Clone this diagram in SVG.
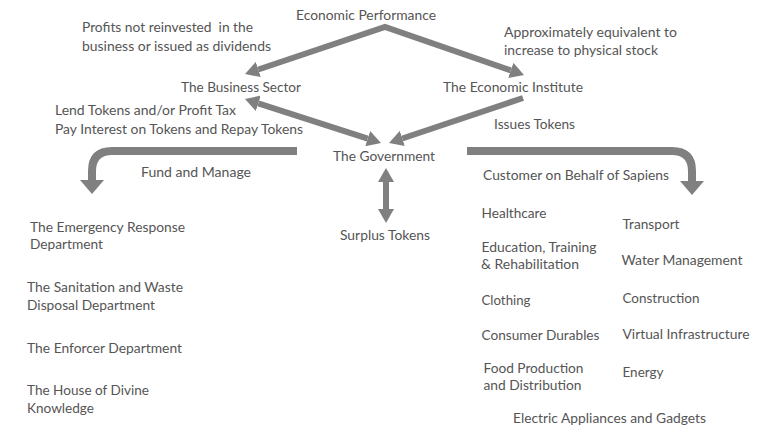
<svg xmlns="http://www.w3.org/2000/svg" width="768" height="437" viewBox="0 0 768 437">
<style>
text{font-family:Lato,"Open Sans","Liberation Sans",sans-serif;font-size:14px;fill:#555555}
.c{fill:none;stroke:#808080}
.thin{stroke-width:6}
.thick{stroke-width:8}
</style>
<defs>
<marker id="ah" markerUnits="userSpaceOnUse" viewBox="0 0 14 16" markerWidth="14" markerHeight="16" refX="0" refY="8" orient="auto-start-reverse"><path d="M0,0 L14,8 L0,16 z" fill="#808080"/></marker>
<marker id="ahb" markerUnits="userSpaceOnUse" viewBox="0 0 14 24" markerWidth="14" markerHeight="24" refX="0" refY="12" orient="auto"><path d="M0,0 L14,12 L0,24 z" fill="#808080"/></marker>
</defs>
<rect width="768" height="437" fill="#ffffff"/>
<g id="connectors">
<path class="c thin" d="M258.3,69.5 L385,27 L510.8,70.4" stroke-linejoin="miter" marker-start="url(#ah)" marker-end="url(#ah)"/>
<path class="c thin" d="M258.3,103.3 L367.7,138.7" marker-start="url(#ah)" marker-end="url(#ah)"/>
<path class="c thin" d="M523,98 L402.3,138.5" marker-end="url(#ah)"/>
<path class="c thin" d="M386,182 L386,209" marker-start="url(#ah)" marker-end="url(#ah)"/>
<path class="c thick" d="M297,151 H112 Q92,151 92,171 V180" marker-end="url(#ahb)"/>
<path class="c thick" d="M467,151 H672 Q692,151 692,171 V181" marker-end="url(#ahb)"/>
</g>
<g id="economic-performance"><text x="296" y="20" textLength="140" lengthAdjust="spacingAndGlyphs">Economic Performance</text></g>
<g id="label-profits"><text x="82" y="32" textLength="171" lengthAdjust="spacingAndGlyphs" xml:space="preserve">Profits not reinvested  in the</text><text x="82" y="51" textLength="189" lengthAdjust="spacingAndGlyphs">business or issued as dividends</text></g>
<g id="label-approx"><text x="504" y="37" textLength="173" lengthAdjust="spacingAndGlyphs">Approximately equivalent to</text><text x="504" y="55" textLength="154" lengthAdjust="spacingAndGlyphs">increase to physical stock</text></g>
<g id="business-sector"><text x="181" y="92" textLength="120" lengthAdjust="spacingAndGlyphs">The Business Sector</text></g>
<g id="economic-institute"><text x="443" y="92" textLength="140" lengthAdjust="spacingAndGlyphs">The Economic Institute</text></g>
<g id="label-lend"><text x="55" y="115" textLength="181" lengthAdjust="spacingAndGlyphs">Lend Tokens and/or Profit Tax</text><text x="55" y="134" textLength="248" lengthAdjust="spacingAndGlyphs">Pay Interest on Tokens and Repay Tokens</text></g>
<g id="label-issues"><text x="494" y="129" textLength="81" lengthAdjust="spacingAndGlyphs">Issues Tokens</text></g>
<g id="government"><text x="333" y="161" textLength="102" lengthAdjust="spacingAndGlyphs">The Government</text></g>
<g id="label-fund"><text x="141" y="177" textLength="110" lengthAdjust="spacingAndGlyphs">Fund and Manage</text></g>
<g id="label-customer"><text x="483" y="180" textLength="186" lengthAdjust="spacingAndGlyphs">Customer on Behalf of Sapiens</text></g>
<g id="surplus-tokens"><text x="340" y="240" textLength="90" lengthAdjust="spacingAndGlyphs">Surplus Tokens</text></g>
<g id="emergency"><text x="30" y="232" textLength="155" lengthAdjust="spacingAndGlyphs">The Emergency Response</text><text x="30" y="249" textLength="73" lengthAdjust="spacingAndGlyphs">Department</text></g>
<g id="sanitation"><text x="27" y="292" textLength="156" lengthAdjust="spacingAndGlyphs">The Sanitation and Waste</text><text x="27" y="310" textLength="128" lengthAdjust="spacingAndGlyphs">Disposal Department</text></g>
<g id="enforcer"><text x="27" y="353" textLength="155" lengthAdjust="spacingAndGlyphs">The Enforcer Department</text></g>
<g id="divine"><text x="27" y="395" textLength="122" lengthAdjust="spacingAndGlyphs">The House of Divine</text><text x="27" y="413" textLength="67" lengthAdjust="spacingAndGlyphs">Knowledge</text></g>
<g id="healthcare"><text x="481.5" y="218" textLength="65" lengthAdjust="spacingAndGlyphs">Healthcare</text></g>
<g id="education"><text x="481.5" y="252" textLength="115" lengthAdjust="spacingAndGlyphs">Education, Training</text><text x="481" y="269" textLength="98" lengthAdjust="spacingAndGlyphs">&amp; Rehabilitation</text></g>
<g id="clothing"><text x="481.5" y="305" textLength="49" lengthAdjust="spacingAndGlyphs">Clothing</text></g>
<g id="consumer-durables"><text x="481.5" y="340" textLength="118" lengthAdjust="spacingAndGlyphs">Consumer Durables</text></g>
<g id="food"><text x="483.5" y="373" textLength="100" lengthAdjust="spacingAndGlyphs">Food Production</text><text x="483.5" y="390" textLength="98" lengthAdjust="spacingAndGlyphs">and Distribution</text></g>
<g id="transport"><text x="622.5" y="229" textLength="57" lengthAdjust="spacingAndGlyphs">Transport</text></g>
<g id="water"><text x="621.5" y="265" textLength="121" lengthAdjust="spacingAndGlyphs">Water Management</text></g>
<g id="construction"><text x="622.5" y="303" textLength="77" lengthAdjust="spacingAndGlyphs">Construction</text></g>
<g id="virtual"><text x="622.5" y="339" textLength="127" lengthAdjust="spacingAndGlyphs">Virtual Infrastructure</text></g>
<g id="energy"><text x="622.5" y="377" textLength="41" lengthAdjust="spacingAndGlyphs">Energy</text></g>
<g id="electric"><text x="513" y="423" textLength="193" lengthAdjust="spacingAndGlyphs">Electric Appliances and Gadgets</text></g>
</svg>
